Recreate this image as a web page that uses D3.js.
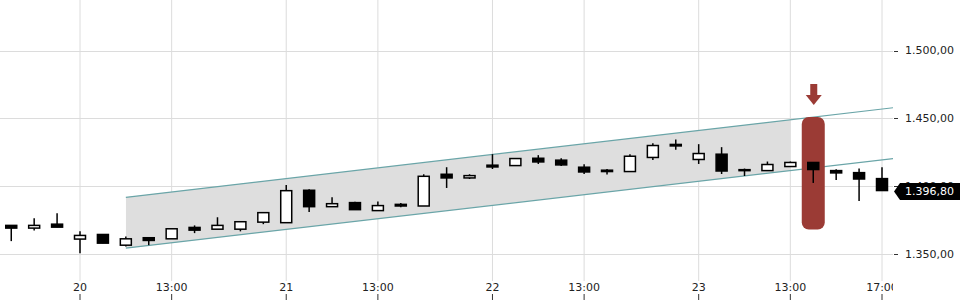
<!DOCTYPE html>
<html lang="de">
<head>
  <meta charset="UTF-8">
  <title>Kursverlauf</title>
  <script src="https://d3js.org/d3.v7.min.js"></script>
  <style>
    body { margin: 0; background: #fff; font-family: 'DejaVu Sans', sans-serif; }
    svg text { font-family: 'DejaVu Sans', sans-serif; font-size: 11px; fill: #222; }
  </style>
</head>
<body>
  <div id="chart"></div>
  <script>
    // stündliche Kerzen, 19. 15:00 bis 23. 17:00
    const times = ["19 15:00","19 16:00","19 17:00",
      "20 09:00","20 10:00","20 11:00","20 12:00","20 13:00","20 14:00","20 15:00","20 16:00","20 17:00",
      "21 09:00","21 10:00","21 11:00","21 12:00","21 13:00","21 14:00","21 15:00","21 16:00","21 17:00",
      "22 09:00","22 10:00","22 11:00","22 12:00","22 13:00","22 14:00","22 15:00","22 16:00","22 17:00",
      "23 09:00","23 10:00","23 11:00","23 12:00","23 13:00","23 14:00","23 15:00","23 16:00","23 17:00"];
    const open  = [1371.1,1369.1,1372.0,1361.0,1364.4,1356.5,1362.0,1361.2,1369.6,1368.3,1368.3,1373.5,1373.1,1397.0,1384.9,1387.9,1382.0,1386.6,1385.4,1408.8,1406.1,1415.5,1415.2,1420.6,1419.2,1414.0,1411.8,1410.8,1421.2,1430.8,1419.7,1423.6,1412.2,1411.5,1414.5,1417.5,1411.5,1410.0,1405.6];
    const high  = [1371.2,1376.3,1380.0,1366.7,1364.6,1362.9,1362.0,1368.6,1371.1,1377.1,1373.8,1380.6,1400.9,1397.7,1391.8,1388.6,1388.8,1387.6,1408.8,1414.0,1408.8,1423.6,1420.4,1422.9,1420.6,1416.2,1412.7,1423.6,1431.7,1434.5,1431.0,1428.8,1413.0,1418.2,1418.2,1417.6,1412.5,1413.0,1414.0];
    const low   = [1359.5,1367.3,1369.8,1350.6,1357.9,1355.5,1356.5,1361.2,1365.4,1368.3,1366.7,1372.0,1373.1,1380.9,1384.9,1382.7,1382.0,1384.4,1385.4,1398.7,1405.3,1412.7,1415.2,1416.4,1414.9,1409.0,1408.6,1410.8,1419.4,1426.8,1416.4,1409.0,1407.5,1411.5,1414.5,1402.4,1404.6,1389.1,1396.8];
    const close = [1369.1,1371.1,1369.8,1363.7,1358.0,1361.2,1360.0,1368.6,1367.6,1371.1,1373.8,1380.5,1396.7,1384.9,1387.1,1382.7,1385.7,1385.4,1407.3,1406.1,1407.8,1414.2,1420.4,1417.9,1415.7,1410.5,1410.8,1422.1,1430.0,1429.7,1424.1,1411.2,1411.8,1416.0,1417.5,1412.3,1409.8,1405.3,1396.8];

    const xTickIdx    = [3, 7, 12, 16, 21, 25, 30, 34, 38];
    const xTickLabels = ["20", "13:00", "21", "13:00", "22", "13:00", "23", "13:00", "17:00"];
    const yTicks      = [1350, 1400, 1450, 1500];

    // Trendkanal: [Kerzenindex, Kurs]
    const upperChannel = [[5, 1391.8], [38.5, 1457.9]];
    const lowerChannel = [[5, 1354.3], [38.5, 1420.4]];
    const channelFillEnd = 34;

    // Markierung
    const markIdx = 35, markHigh = 1451, markLow = 1368;

    const W = 960, H = 300, plotRight = 893, gridBottom = 281;
    const fmt = v => v.toLocaleString("de-DE", { minimumFractionDigits: 2, maximumFractionDigits: 2 });

    const data = times.map((t, i) => ({ t, i, o: open[i], h: high[i], l: low[i], c: close[i] }));

    const x = d3.scaleLinear().domain([3, 38]).range([80, 882]);
    const y = d3.scaleLinear().domain([1350, 1500]).range([254, 50.6]);

    const svg = d3.select("#chart").append("svg")
      .attr("width", W).attr("height", H);

    svg.append("defs").append("clipPath").attr("id", "plot")
      .append("rect").attr("x", 0).attr("y", 0).attr("width", plotRight).attr("height", H);
    svg.select("defs").append("clipPath").attr("id", "fill")
      .append("rect").attr("x", x(5)).attr("y", 0).attr("width", x(channelFillEnd) - x(5)).attr("height", H);

    // Gitter
    svg.append("g").selectAll("line").data(xTickIdx).join("line")
      .attr("x1", d => x(d)).attr("x2", d => x(d))
      .attr("y1", 0).attr("y2", gridBottom)
      .attr("stroke", "#dcdcdc").attr("stroke-width", 1);
    svg.append("g").selectAll("line").data(yTicks).join("line")
      .attr("x1", 0).attr("x2", plotRight)
      .attr("y1", d => Math.round(y(d)) + 0.5).attr("y2", d => Math.round(y(d)) + 0.5)
      .attr("stroke", "#dcdcdc").attr("stroke-width", 1);

    // Kanal
    const area = d3.area()
      .x(d => x(d[0]))
      .y0((d, k) => y(lowerChannel[k][1]))
      .y1(d => y(d[1]));
    svg.append("path")
      .datum(upperChannel)
      .attr("d", area)
      .attr("fill", "#dedede")
      .attr("clip-path", "url(#fill)");

    const line = d3.line().x(d => x(d[0])).y(d => y(d[1]));
    [upperChannel, lowerChannel].forEach(ch => {
      svg.append("path").datum(ch).attr("d", line)
        .attr("fill", "none").attr("stroke", "#6aa5a8").attr("stroke-width", 1.2)
        .attr("clip-path", "url(#plot)");
    });

    // Markierung (Balken + Pfeil)
    const red = "#9b3b35";
    svg.append("rect")
      .attr("x", x(markIdx) - 11.5).attr("width", 23)
      .attr("y", y(markHigh)).attr("height", y(markLow) - y(markHigh))
      .attr("rx", 7).attr("fill", red);
    const ax = x(markIdx) + 0.5;
    svg.append("rect").attr("x", ax - 3.5).attr("y", 84).attr("width", 7).attr("height", 12).attr("fill", red);
    svg.append("path")
      .attr("d", `M${ax - 8},95 L${ax + 8},95 L${ax},105 Z`)
      .attr("fill", red);

    // Kerzen
    const bodyW = 11;
    const candles = svg.append("g").selectAll("g").data(data).join("g");
    candles.append("line")
      .attr("x1", d => x(d.i)).attr("x2", d => x(d.i))
      .attr("y1", d => y(d.h)).attr("y2", d => y(d.l))
      .attr("stroke", "#000").attr("stroke-width", 1.5);
    candles.append("rect")
      .attr("x", d => x(d.i) - bodyW / 2).attr("width", bodyW)
      .attr("y", d => y(Math.max(d.o, d.c)))
      .attr("height", d => Math.max(1, Math.abs(y(d.o) - y(d.c))))
      .attr("fill", d => d.c >= d.o ? "#fff" : "#000")
      .attr("stroke", "#000").attr("stroke-width", 1.5);

    // Y-Achse rechts
    const yAxis = svg.append("g");
    yAxis.selectAll("line").data(yTicks).join("line")
      .attr("x1", plotRight + 1).attr("x2", plotRight + 5)
      .attr("y1", d => Math.round(y(d)) + 0.5).attr("y2", d => Math.round(y(d)) + 0.5)
      .attr("stroke", "#333");
    yAxis.selectAll("text").data(yTicks).join("text")
      .attr("x", 905).attr("y", d => y(d)).attr("dy", "0.35em")
      .text(d => fmt(d));

    // X-Achse
    const xAxis = svg.append("g");
    xAxis.selectAll("text").data(xTickIdx).join("text")
      .attr("x", (d, k) => x(d)).attr("y", 291)
      .attr("text-anchor", "middle")
      .attr("clip-path", "url(#plot)")
      .text((d, k) => xTickLabels[k]);
    xAxis.selectAll("line").data(xTickIdx).join("line")
      .attr("x1", d => x(d)).attr("x2", d => x(d))
      .attr("y1", 294).attr("y2", 300)
      .attr("stroke", "#333");

    // aktueller Kurs
    const last = close[close.length - 1];
    const ly = y(last) + 1;
    svg.append("path")
      .attr("d", `M${plotRight + 1},${ly} L${plotRight + 7},${ly - 8.5} L${W},${ly - 8.5} L${W},${ly + 8.5} L${plotRight + 7},${ly + 8.5} Z`)
      .attr("fill", "#000");
    svg.append("text")
      .attr("x", 905).attr("y", ly).attr("dy", "0.35em")
      .style("fill", "#fff")
      .text(fmt(last));
  </script>
</body>
</html>
